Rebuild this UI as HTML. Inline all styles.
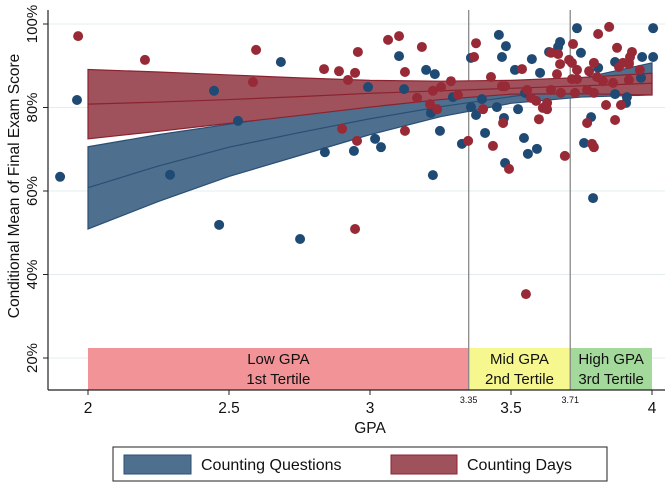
<!DOCTYPE html>
<html><head><meta charset="utf-8"><style>
html,body{margin:0;padding:0;background:#fff}
svg{display:block;font-family:"Liberation Sans",Arial,sans-serif}
</style></head><body>
<svg id="chart" width="666" height="484" viewBox="0 0 666 484" xmlns="http://www.w3.org/2000/svg">
<g id="grid"></g>
<g id="tertiles"></g>
<g id="bands"></g>
<g id="dots"></g>
<g id="axes"></g>
<text transform="translate(19,186) rotate(-90)" text-anchor="middle" font-size="15.5" fill="#111">Conditional Mean of Final Exam Score</text>
<text x="370" y="433" text-anchor="middle" font-size="15.5" fill="#111">GPA</text>
<g>
<rect x="113" y="447" width="494" height="34" fill="#fff" stroke="#222" stroke-width="1"/>
<rect x="124" y="455" width="67" height="19" fill="#4e6f8e" stroke="#2a4f75"/>
<text x="201" y="470" font-size="16" fill="#111">Counting Questions</text>
<rect x="391" y="455" width="66" height="19" fill="#a0525c" stroke="#8b2230"/>
<text x="467" y="470" font-size="16" fill="#111">Counting Days</text>
</g>
</svg>
<script>
const xTicks=[2,2.5,3,3.5,4];
const xTickLabels=["2","2.5","3","3.5","4"];
const yTicks=[20,40,60,80,100];
const yTickLabels=["20%","40%","60%","80%","100%"];
const tertileCuts=[2,3.35,3.71,4];
const tertileNames=[["Low GPA","1st Tertile"],["Mid GPA","2nd Tertile"],["High GPA","3rd Tertile"]];
const bandGpa=[2,2.25,2.5,2.75,3,3.25,3.5,3.75,4];
const qMid=[60.8,66,70.5,74,77.3,80.2,82.6,84.8,87.0];
const qLo=[50.9,57.5,63.5,68.5,73.5,77.8,81.0,82.5,83.0];
const qHi=[70.6,73.5,76.0,78.5,80.5,82.6,84.3,87.0,90.7];
const dMid=[80.8,81.3,81.9,82.6,83.4,84.0,84.6,85.2,85.8];
const dLo=[72.5,74.3,76.2,78.1,80.1,81.9,83.2,83.3,83.0];
const dHi=[89.1,88.5,87.8,87.1,86.5,86.3,86.5,87.2,88.2];
const blueGpa=[1.961,1.901,2.291,2.447,2.532,2.684,2.465,2.752,2.840,2.943,3.103,2.993,3.121,3.199,3.230,3.216,3.294,3.248,3.223,3.018,3.039,3.326,3.358,3.358,3.376,3.397,3.408,3.450,3.475,3.457,3.482,3.468,3.514,3.525,3.574,3.603,3.546,3.560,3.592,3.479,3.550,3.635,3.674,3.667,3.734,3.748,3.784,3.759,3.791,3.809,3.869,3.869,3.911,3.908,3.965,4.004,4.004,3.961,3.918];
const blueScore=[81.8,63.4,63.9,84.0,76.8,90.9,51.9,48.5,69.3,69.6,92.3,84.9,84.4,89.0,88.0,78.7,82.5,74.4,63.8,72.5,70.5,71.3,91.9,80.1,78.2,82.0,73.9,80.1,77.5,97.4,94.7,92.1,89.0,79.6,91.6,88.3,72.7,68.9,70.1,66.7,83.5,93.3,95.7,94.5,99.0,93.1,77.7,71.5,58.3,89.5,90.9,83.2,82.5,81.1,92.1,92.1,99.0,87.1,90.7];
const redGpa=[1.965,2.202,2.596,2.585,2.837,2.890,2.922,2.947,2.957,2.901,2.954,2.947,3.064,3.103,3.184,3.124,3.167,3.213,3.238,3.223,3.252,3.287,3.312,3.124,3.376,3.369,3.348,3.429,3.468,3.479,3.401,3.472,3.436,3.493,3.539,3.557,3.571,3.589,3.613,3.628,3.628,3.599,3.642,3.667,3.674,3.663,3.642,3.677,3.691,3.720,3.706,3.716,3.734,3.716,3.734,3.727,3.770,3.794,3.770,3.787,3.794,3.777,3.794,3.809,3.848,3.805,3.826,3.862,3.837,3.869,3.890,3.876,3.929,3.922,3.883,3.897,3.918,3.918,3.957,3.553];
const redScore=[97.1,91.4,93.8,86.1,89.2,88.7,86.6,88.3,93.3,74.9,72.0,50.9,96.2,97.1,94.5,88.5,82.3,80.8,79.6,84.0,84.9,86.3,83.0,74.4,95.4,92.1,72.0,87.3,85.1,85.1,79.6,76.3,70.8,65.3,89.2,84.2,82.3,81.6,79.9,81.1,79.6,77.2,93.1,92.8,90.4,88.0,84.2,83.5,68.4,95.2,91.4,90.7,89.0,86.8,86.8,83.5,84.2,83.5,76.3,71.3,70.5,88.7,90.7,97.6,99.3,87.3,86.3,85.9,80.6,77.0,80.6,94.3,93.3,92.1,89.7,90.7,90.4,86.6,89.0,35.3];

const NS='http://www.w3.org/2000/svg';
const X0=48,XR=665,YB=390,YT=10;
function sx(g){return 88+(g-2)*282;}
function sy(v){return 24+(100-v)*4.175;}
function mk(tag,attrs,parent){const e=document.createElementNS(NS,tag);for(const k in attrs)e.setAttribute(k,attrs[k]);parent.appendChild(e);return e;}
const grid=document.getElementById('grid'),ter=document.getElementById('tertiles'),bands=document.getElementById('bands'),dots=document.getElementById('dots'),axes=document.getElementById('axes');

yTicks.forEach((v,i)=>{
  const l=mk('line',{x1:X0,x2:XR,y1:sy(v),y2:sy(v),stroke:'#e3ecef','stroke-width':1},grid);
  
  
  const t=mk('line',{x1:X0-5,x2:X0,y1:sy(v),y2:sy(v),stroke:'#222'},axes);
  
  
  const lab=mk('text',{transform:`translate(37,${sy(v)}) rotate(-90)`,'text-anchor':'middle','font-size':15,fill:'#111'},axes);
  lab.textContent=yTickLabels[i];
  
  
});

const terColors=['#f29497','#f6f88f','#a3d99a'];
for(let i=0;i<3;i++){
  const x1=sx(tertileCuts[i]),x2=sx(tertileCuts[i+1]);
  const r=mk('rect',{x:x1,y:348,width:x2-x1,height:YB-348,fill:terColors[i]},ter);
  
  
  const cx=(x1+x2)/2;
  const t1=mk('text',{x:cx,y:364,'text-anchor':'middle','font-size':15,fill:'#111'},ter);
  t1.textContent=tertileNames[i][0];
  
  
  const t2=mk('text',{x:cx,y:384,'text-anchor':'middle','font-size':15,fill:'#111'},ter);
  t2.textContent=tertileNames[i][1];
  
  
}
[1,2].forEach(i=>{
  const l=mk('line',{x1:sx(tertileCuts[i]),x2:sx(tertileCuts[i]),y1:YT,y2:YB,stroke:'#888','stroke-width':1.3},ter);
  
  
  const t=mk('text',{x:sx(tertileCuts[i]),y:403,'text-anchor':'middle','font-size':9,fill:'#111'},axes);
  t.textContent=tertileCuts[i].toFixed(2);
  
  
});

function band(lo,hi,mid,fill,stroke,name){
  let d='M'+bandGpa.map((g,i)=>sx(g)+','+sy(hi[i])).join('L');
  d+='L'+bandGpa.slice().reverse().map((g,j)=>{const i=bandGpa.length-1-j;return sx(g)+','+sy(lo[i]);}).join('L')+'Z';
  const p=mk('path',{d:d,fill:fill,stroke:stroke,'stroke-width':1.2},bands);
  
  
  const m=mk('polyline',{points:bandGpa.map((g,i)=>sx(g)+','+sy(mid[i])).join(' '),fill:'none',stroke:stroke,'stroke-width':1.2},bands);
  
  
}
band(qLo,qHi,qMid,'#4e6f8e','#2a4f75','questions');
band(dLo,dHi,dMid,'#a0525c','#8b2230','days');

blueGpa.forEach((g,i)=>{
  const c=mk('circle',{cx:sx(g),cy:sy(blueScore[i]),r:5,fill:'#1f4a74'},dots);
  
  
});
redGpa.forEach((g,i)=>{
  const c=mk('circle',{cx:sx(g),cy:sy(redScore[i]),r:5,fill:'#972a36'},dots);
  
  
});

const ya=mk('line',{x1:X0,x2:X0,y1:YT,y2:YB,stroke:'#222','stroke-width':1.2},axes);


const xa=mk('line',{x1:X0,x2:XR,y1:YB,y2:YB,stroke:'#222','stroke-width':1.2},axes);


xTicks.forEach((g,i)=>{
  const t=mk('line',{x1:sx(g),x2:sx(g),y1:YB,y2:YB+5,stroke:'#222'},axes);
  
  
  const lab=mk('text',{x:sx(g),y:413,'text-anchor':'middle','font-size':15.5,fill:'#111'},axes);
  lab.textContent=xTickLabels[i];
  
  
});
</script>
</body></html>
